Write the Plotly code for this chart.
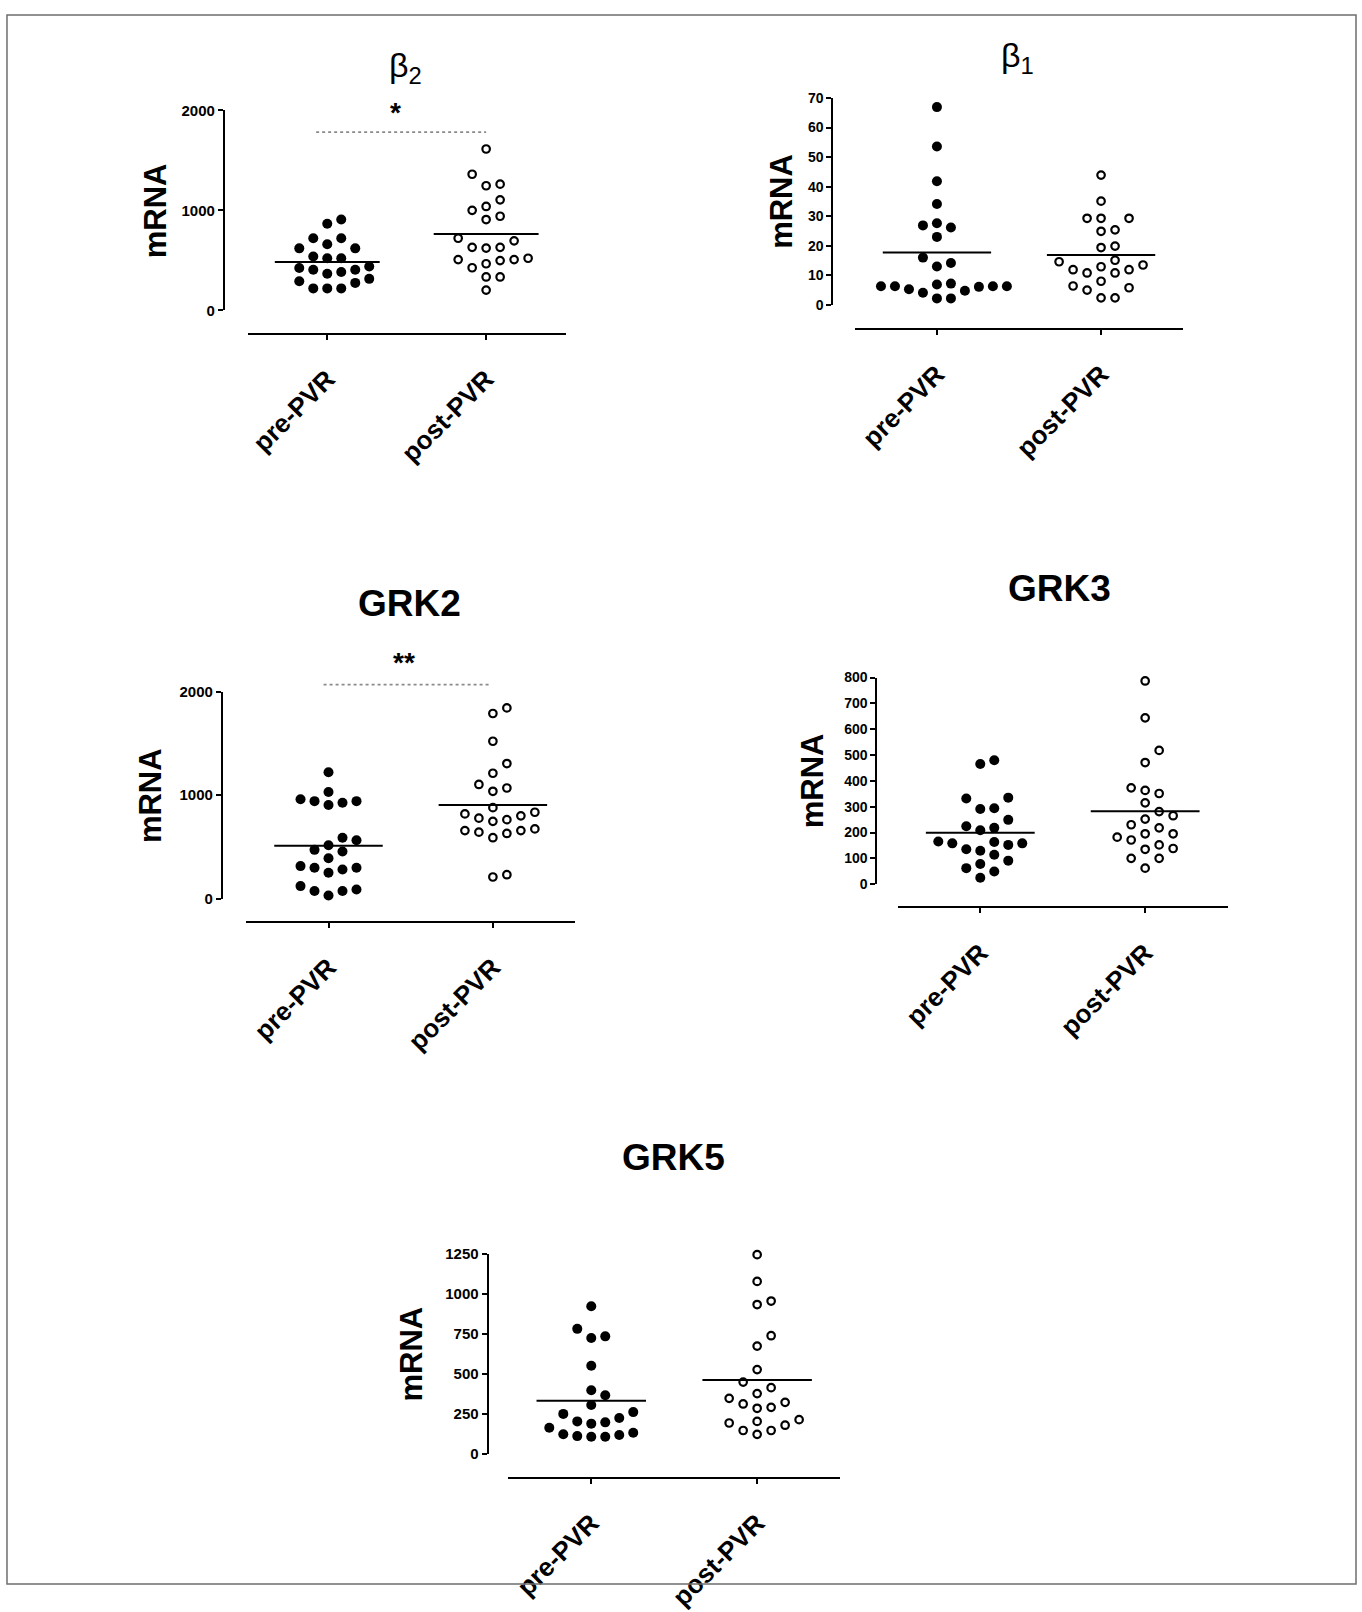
import numpy as np
import plotly.graph_objects as go

W, H = 1362, 1612
FONT = "Liberation Sans, Arial, sans-serif"

# ---------------- data ----------------
categories = ["pre-PVR", "post-PVR"]

b2_pre = [908, 866, 721, 721, 662, 620, 620, 538, 521, 521, 439, 407, 384, 367,
          407, 423, 292, 315, 275, 220, 220, 220]
b2_post = [1613, 1361, 1262, 1246, 1105, 1039, 1000, 941, 908, 721, 695, 630, 623,
           630, 521, 508, 466, 498, 508, 426, 334, 334, 203]

b1_pre = [66.9, 53.6, 41.8, 34.1, 27.6, 26.2, 26.9, 23.0, 16.0, 14.2, 13.0, 6.3,
          5.3, 6.9, 4.1, 6.1, 7.2, 6.3, 6.3, 4.8, 6.3, 2.2, 2.2]
b1_post = [43.9, 35.1, 29.3, 29.3, 29.3, 24.9, 25.4, 19.9, 19.4, 14.6, 15.1, 12.9,
           13.5, 11.9, 10.8, 10.8, 11.9, 6.4, 5.0, 8.0, 5.8, 2.4, 2.4]

grk2_pre = [1221, 962, 943, 905, 928, 943, 1032, 590, 565, 473, 457, 517, 391, 300,
            284, 252, 300, 316, 123, 76, 32, 76, 91]
grk2_post = [1843, 1789, 1521, 1306, 1212, 1070, 1038, 1104, 880, 820, 779, 748, 764,
             801, 836, 675, 659, 631, 590, 644, 659, 211, 233]

grk3_pre = [480, 465, 332, 335, 291, 294, 249, 218, 209, 224, 165, 135, 158, 152,
            158, 163, 114, 129, 91, 62, 78, 49, 25]
grk3_post = [787, 644, 518, 471, 373, 351, 363, 315, 281, 265, 252, 218, 230, 195,
             195, 182, 171, 138, 135, 152, 100, 100, 62]

grk5_pre = [922, 781, 734, 724, 550, 397, 366, 305, 260, 249, 223, 196, 202, 188,
            162, 121, 110, 106, 106, 117, 131]
grk5_post = [1245, 1078, 933, 955, 738, 673, 526, 448, 413, 376, 346, 290, 311, 321,
             284, 213, 192, 145, 121, 145, 178, 202]

# significance bars: (label, bar level, label level)
b2_sig = ("*", 1782, 1975)
grk2_sig = ("**", 2067, 2285)

titles = ["β<sub>2</sub>", "β<sub>1</sub>", "GRK2", "GRK3", "GRK5"]
y_label = "mRNA"

# ---------------- layout (pixel geometry of each panel) ----------------
panels = [
    dict(title=titles[0], pre=b2_pre, post=b2_post, ymax=2000, dtick=1000, sig=b2_sig,
         tx=405, ty=60, tsize=34, tbold=False, mx=154,
         yx=223, y0=307.3, yt=103.3, xline=331, xl=247, xr=565, tfs=15, sigx=(-0.07, 1.0), starx=0.43),
    dict(title=titles[1], pre=b1_pre, post=b1_post, ymax=70, dtick=10, sig=None,
         tx=1017, ty=49, tsize=34, tbold=False, mx=781,
         yx=832, y0=301.7, yt=90.7, xline=326, xl=854.5, xr=1183, tfs=14),
    dict(title=titles[2], pre=grk2_pre, post=grk2_post, ymax=2000, dtick=1000, sig=grk2_sig,
         tx=409, ty=606, tsize=37, tbold=True, mx=149,
         yx=221, y0=907.3, yt=696, xline=930.7, xl=245.5, xr=574.5, tfs=15, sigx=(-0.03, 0.99), starx=0.46),
    dict(title=titles[3], pre=grk3_pre, post=grk3_post, ymax=800, dtick=100, sig=None,
         tx=1059, ty=591, tsize=37, tbold=True, mx=812,
         yx=876, y0=892.3, yt=681.7, xline=916, xl=897.5, xr=1227.5, tfs=14),
    dict(title=titles[4], pre=grk5_pre, post=grk5_post, ymax=1250, dtick=250, sig=None,
         tx=673, ty=1171, tsize=37, tbold=True, mx=411,
         yx=487, y0=1473, yt=1269.3, xline=1497.3, xl=507.7, xr=839.7, tfs=15),
]

COL_PX = 14.0    # horizontal spacing between swarm columns (px)
DIAM_PX = 12.5   # minimum vertical separation within a column (px)


def swarm(values, px_per_unit, px_per_cat):
    """Greedy column beeswarm: returns horizontal offsets in category units."""
    vals = np.asarray(values, dtype=float)
    order = np.argsort(vals, kind="stable")
    placed = []  # (col, ypx)
    offs = np.zeros(len(vals))
    cands = [0]
    for k in range(1, 12):
        cands += [k, -k]
    for idx in order:
        ypx = vals[idx] * px_per_unit
        for c in cands:
            if all(not (pc == c and abs(py_ - ypx) < DIAM_PX) for pc, py_ in placed):
                placed.append((c, ypx))
                offs[idx] = c * COL_PX / px_per_cat
                break
    return offs


def px(x):
    return x / W


def py(y):
    return 1 - y / H


fig = go.Figure()
layout = dict(
    width=W, height=H, margin=dict(l=0, r=0, t=0, b=0),
    paper_bgcolor="white", plot_bgcolor="rgba(0,0,0,0)",
    showlegend=False, font=dict(family=FONT, color="black"),
)
annotations = []
extra_axis = 6

for i, p in enumerate(panels, start=1):
    xs = "" if i == 1 else str(i)
    xname, yname = "x" + xs, "y" + xs
    ppu = (p["y0"] - p["yt"]) / p["ymax"]
    ppc = (p["xr"] - p["xl"]) / 2.0

    layout["xaxis" + xs] = dict(
        domain=[px(p["xl"]), px(p["xr"])], range=[-0.5, 1.5], anchor="free",
        position=py(p["xline"]), tickvals=[0, 1], ticktext=categories, tickangle=-45,
        ticks="outside", ticklen=5, tickwidth=1.5, tickcolor="black",
        showline=True, linewidth=2, linecolor="black", showgrid=False, zeroline=False,
        tickfont=dict(family=FONT, size=26, weight="bold", color="black"),
        ticklabelstandoff=14,
    )
    layout["yaxis" + xs] = dict(
        domain=[py(p["y0"]), py(p["yt"])], range=[0, p["ymax"]], anchor="free",
        position=px(p["yx"]), tickvals=list(range(0, p["ymax"] + 1, p["dtick"])),
        ticks="outside", ticklen=5, tickwidth=1.5, tickcolor="black",
        showline=True, linewidth=2, linecolor="black", showgrid=False, zeroline=False,
        tickfont=dict(family=FONT, size=p["tfs"], weight="bold", color="black"),
    )

    for g, vals in enumerate([p["pre"], p["post"]]):
        offs = swarm(vals, ppu, ppc)
        if g == 0:
            marker = dict(symbol="circle", size=10, color="black", line=dict(width=0))
        else:
            marker = dict(symbol="circle-open", size=7.5, color="black", line=dict(width=2.2, color="black"))
        fig.add_trace(go.Scatter(
            x=g + offs, y=vals, mode="markers", marker=marker, cliponaxis=False,
            xaxis=xname, yaxis=yname, hoverinfo="y",
        ))
        m = float(np.mean(vals))
        fig.add_trace(go.Scatter(
            x=[g - 0.33, g + 0.33], y=[m, m], mode="lines",
            line=dict(color="black", width=2), xaxis=xname, yaxis=yname, hoverinfo="skip",
        ))

    if p["sig"] is not None:
        label, level, lab_level = p["sig"]
        top = p["ymax"] * 1.3
        ys = str(extra_axis)
        extra_axis += 1
        layout["yaxis" + ys] = dict(
            domain=[py(p["y0"]), py(p["y0"] - top * ppu)], range=[0, top],
            anchor="free", position=px(p["yx"]), visible=False,
        )
        fig.add_trace(go.Scatter(
            x=list(p["sigx"]), y=[level, level], mode="lines",
            line=dict(color="#8a8a8a", width=1.6, dash="dot"),
            xaxis=xname, yaxis="y" + ys, hoverinfo="skip",
        ))
        annotations.append(dict(
            x=p["starx"], y=lab_level, xref=xname, yref="y" + ys, text="<b>%s</b>" % label,
            showarrow=False, font=dict(family=FONT, size=28, color="black"),
            xanchor="center", yanchor="middle",
        ))

    # panel title
    ttl = p["title"] if not p["tbold"] else "<b>%s</b>" % p["title"]
    annotations.append(dict(
        x=px(p["tx"]), y=py(p["ty"]), xref="paper", yref="paper", text=ttl,
        showarrow=False, font=dict(family=FONT, size=p["tsize"], color="black"),
        xanchor="center", yanchor="middle",
    ))
    # y axis label
    annotations.append(dict(
        x=px(p["mx"]), y=py((p["y0"] + p["yt"]) / 2), xref="paper", yref="paper",
        text="<b>%s</b>" % y_label, textangle=-90, showarrow=False,
        font=dict(family=FONT, size=31, color="black"), xanchor="center", yanchor="middle",
    ))

layout["annotations"] = annotations
layout["shapes"] = [dict(
    type="rect", xref="paper", yref="paper", x0=px(6), x1=px(1356), y0=py(1606), y1=py(6),
    line=dict(color="#6e6e6e", width=1.5), fillcolor="rgba(0,0,0,0)",
)]
fig.update_layout(**layout)

fig.write_html(
    "out.html",
    config={"displayModeBar": False},
    post_script="document.body.style.margin='0';document.body.style.padding='0';"
                "document.body.style.overflow='hidden';"
                "document.documentElement.style.overflow='hidden';",
)
